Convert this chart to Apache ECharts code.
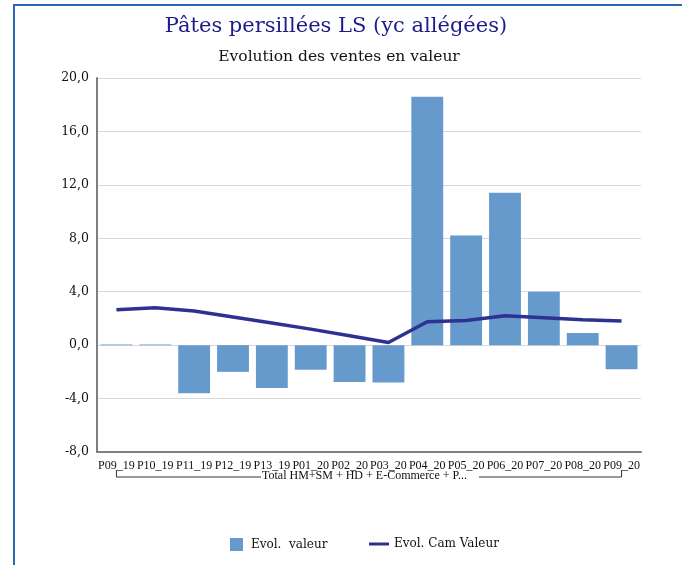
<!DOCTYPE html>
<html>
<head>
<meta charset="utf-8">
<script src="https://cdn.jsdelivr.net/npm/echarts@6/dist/echarts.min.js"></script>
<style>
  html, body { margin: 0; padding: 0; background: #fff; }
  #frame {
    position: absolute; left: 13px; top: 4px; width: 800px; height: 700px;
    border-left: 2px solid #2d67b3; border-top: 2px solid #2d67b3;
  }
  #main { position: absolute; left: 0; top: 0; width: 682px; height: 565px; }
</style>
</head>
<body>
<div id="frame"></div>
<div id="main"></div>
<script>
// periodes
const categories = ['P09_19', 'P10_19', 'P11_19', 'P12_19', 'P13_19', 'P01_20', 'P02_20',
  'P03_20', 'P04_20', 'P05_20', 'P06_20', 'P07_20', 'P08_20', 'P09_20'];
// Evol. valeur (barres)
const evolValeur = [0.05, 0.05, -3.6, -2.0, -3.2, -1.85, -2.75, -2.8, 18.6, 8.2, 11.4, 4.0, 0.9, -1.8];
// Evol. Cam Valeur (courbe)
const evolCam = [2.65, 2.8, 2.55, 2.1, 1.65, 1.2, 0.7, 0.2, 1.75, 1.85, 2.2, 2.05, 1.9, 1.8];
const yTicks = { min: -8, max: 20, interval: 4 };
const groupLabel = 'Total HM+SM + HD + E-Commerce + P...';

const serif = '"DejaVu Serif", "Liberation Serif", serif';
const narrow = '"Liberation Serif", serif';
const myChart = echarts.init(document.getElementById('main'));

const option = {
  animation: false,
  title: [
    {
      text: 'Pâtes persillées LS (yc allégées)',
      left: 331, top: 11, textAlign: 'center',
      textStyle: { fontFamily: serif, fontSize: 21, fontWeight: 'normal', color: '#1c1c8a' }
    },
    {
      text: 'Evolution des ventes en valeur',
      left: 334, top: 44, textAlign: 'center',
      textStyle: { fontFamily: serif, fontSize: 15.5, fontWeight: 'normal', color: '#111' }
    }
  ],
  legend: [
    {
      data: ['Evol.  valeur'],
      left: 225, top: 533,
      icon: 'rect', itemWidth: 13, itemHeight: 13,
      textStyle: { fontFamily: serif, fontSize: 12, color: '#111', padding: [0, 0, 0, 3] }
    },
    {
      data: ['Evol. Cam Valeur'],
      left: 364, top: 533,
      icon: 'rect', itemWidth: 20, itemHeight: 3,
      textStyle: { fontFamily: serif, fontSize: 12, color: '#111' }
    }
  ],
  grid: { left: 97, right: 41, top: 78, bottom: 113 },
  xAxis: {
    type: 'category',
    data: categories,
    axisLine: { onZero: false, lineStyle: { color: '#7f7f7f', width: 2 } },
    axisTick: { show: false },
    axisLabel: { interval: 0, margin: 8, fontFamily: narrow, fontSize: 12, color: '#111' }
  },
  yAxis: {
    type: 'value',
    min: yTicks.min, max: yTicks.max, interval: yTicks.interval,
    axisLine: { show: true, lineStyle: { color: '#7f7f7f', width: 2 } },
    axisTick: { show: false },
    splitLine: { lineStyle: { color: '#d9d9d9', width: 1 } },
    axisLabel: {
      margin: 8, fontFamily: serif, fontSize: 12.5, color: '#111',
      formatter: v => v.toFixed(1).replace('.', ',')
    }
  },
  series: [
    {
      name: 'Evol.  valeur',
      type: 'bar',
      data: evolValeur,
      barCategoryGap: '18%',
      itemStyle: { color: '#6699cc' }
    },
    {
      name: 'Evol. Cam Valeur',
      type: 'line',
      data: evolCam,
      symbol: 'none',
      lineStyle: { color: '#2e3192', width: 3.5 },
      itemStyle: { color: '#2e3192' }
    }
  ]
};

myChart.setOption(option);

// accolade du groupe sous l'axe des catégories
const x0 = myChart.convertToPixel({ xAxisIndex: 0 }, categories[0]);
const x1 = myChart.convertToPixel({ xAxisIndex: 0 }, categories[categories.length - 1]);
const yb = 477;
const mid = (x0 + x1) / 2;
const gapL = mid - 108, gapR = mid + 110;
const stroke = { stroke: '#333', lineWidth: 1 };
myChart.setOption({
  graphic: [
    { type: 'polyline', shape: { points: [[x0, yb - 7], [x0, yb], [gapL, yb]] }, style: stroke, silent: true },
    { type: 'polyline', shape: { points: [[gapR, yb], [x1, yb], [x1, yb - 7]] }, style: stroke, silent: true },
    {
      type: 'text', left: gapL + 1, top: yb - 7,
      style: { text: groupLabel, font: '12px ' + narrow, fill: '#111' }
    }
  ]
});
</script>
</body>
</html>
